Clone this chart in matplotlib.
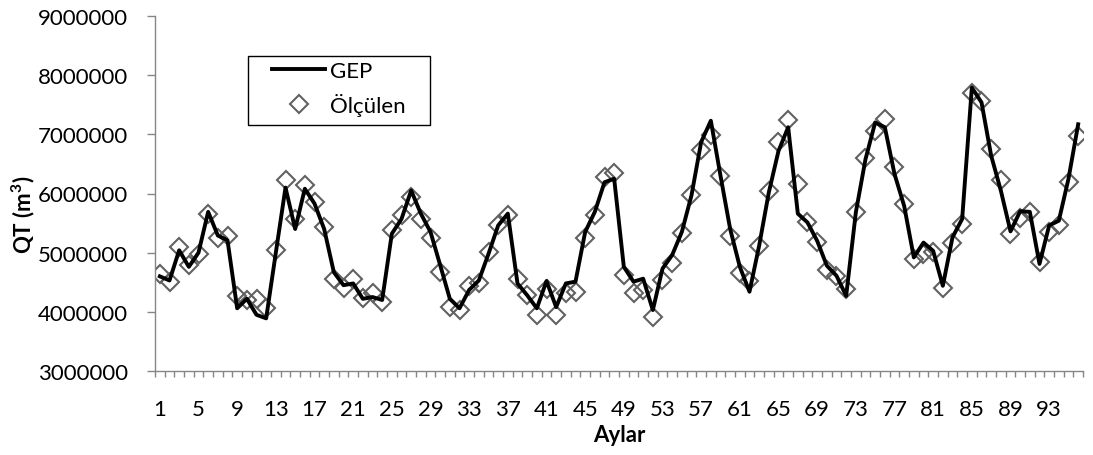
import matplotlib
matplotlib.use("Agg")
import matplotlib.pyplot as plt
from matplotlib.lines import Line2D
from matplotlib.patches import Rectangle
from matplotlib.ticker import FixedLocator, FuncFormatter
import numpy as np

plt.rcParams['font.family'] = ['Lato', 'DejaVu Sans']
plt.rcParams['mathtext.fontset'] = 'custom'
plt.rcParams['mathtext.rm'] = 'Lato'
plt.rcParams['mathtext.bf'] = 'Lato:bold'

months = list(range(1, 97))
gep = [4.60, 4.53, 5.04, 4.76, 5.00, 5.69, 5.29, 5.21, 4.06, 4.22,
       3.95, 3.89, 5.00, 6.10, 5.40, 6.08, 5.83, 5.40, 4.67, 4.45,
       4.48, 4.22, 4.25, 4.20, 5.32, 5.57, 6.05, 5.66, 5.35, 4.79,
       4.22, 4.06, 4.37, 4.53, 4.98, 5.46, 5.66, 4.48, 4.28, 4.06,
       4.52, 4.08, 4.48, 4.51, 5.35, 5.69, 6.19, 6.25, 4.76, 4.51,
       4.56, 4.03, 4.73, 4.96, 5.35, 5.97, 6.87, 7.23, 6.30, 5.40,
       4.76, 4.34, 5.12, 6.02, 6.72, 7.12, 5.66, 5.51, 5.20, 4.78,
       4.61, 4.27, 5.68, 6.58, 7.20, 7.12, 6.33, 5.79, 4.92, 5.17,
       5.03, 4.44, 5.26, 5.57, 7.79, 7.54, 6.64, 6.05, 5.36, 5.70,
       5.69, 4.81, 5.46, 5.54, 6.25, 7.17]
olculen = [4.64, 4.51, 5.10, 4.79, 4.97, 5.65, 5.24, 5.28, 4.26, 4.20,
           4.21, 4.07, 5.05, 6.22, 5.57, 6.15, 5.85, 5.44, 4.56, 4.40,
           4.56, 4.23, 4.31, 4.17, 5.38, 5.63, 5.94, 5.57, 5.24, 4.67,
           4.08, 4.03, 4.43, 4.48, 5.01, 5.46, 5.63, 4.56, 4.28, 3.94,
           4.38, 3.94, 4.31, 4.34, 5.24, 5.63, 6.28, 6.35, 4.63, 4.32,
           4.37, 3.92, 4.53, 4.82, 5.34, 5.97, 6.73, 6.99, 6.29, 5.29,
           4.65, 4.52, 5.11, 6.05, 6.87, 7.25, 6.16, 5.52, 5.18, 4.70,
           4.61, 4.39, 5.68, 6.60, 7.06, 7.26, 6.44, 5.82, 4.89, 4.98,
           5.01, 4.40, 5.16, 5.49, 7.70, 7.56, 6.75, 6.22, 5.31, 5.59,
           5.69, 4.85, 5.35, 5.46, 6.19, 6.98]
gep = [v * 1e6 for v in gep]
olculen = [v * 1e6 for v in olculen]

x_tick_labels = list(range(1, 97, 4))
y_ticks = [3000000, 4000000, 5000000, 6000000, 7000000, 8000000, 9000000]

W, H = 1093, 456
fig = plt.figure(figsize=(W / 100, H / 100), dpi=100)
L, R, T, B = 155, 1083, 17, 372
ax = fig.add_axes([L / W, 1 - B / H, (R - L) / W, (B - T) / H])

axis_gray = '#868686'
marker_gray = '#616161'

ax.plot(months, olculen, linestyle='none', marker='D', markersize=9.5,
        markerfacecolor='none', markeredgecolor=marker_gray,
        markeredgewidth=1.5, zorder=2)
ax.plot(months, gep, color='black', linewidth=2.8, zorder=3,
        solid_joinstyle='round')

ax.set_xlim(0.5, 96.5)
ax.set_ylim(3000000, 9000000)

for s in ['top', 'right']:
    ax.spines[s].set_visible(False)
for s in ['left', 'bottom']:
    ax.spines[s].set_color(axis_gray)
    ax.spines[s].set_linewidth(1.0)

ax.set_yticks(y_ticks)
ax.yaxis.set_major_formatter(FuncFormatter(lambda v, p: f"{int(round(v))}"))
ax.tick_params(axis='y', which='major', direction='out', length=6,
               width=1.0, color=axis_gray, pad=13.5, labelsize=16,
               labelcolor='black')

ax.xaxis.set_major_locator(FixedLocator(x_tick_labels))
ax.set_xticklabels([str(v) for v in x_tick_labels])
ax.xaxis.set_minor_locator(FixedLocator(np.arange(0.5, 97.0, 1.0)))
ax.tick_params(axis='x', which='major', length=0, pad=20, labelsize=16,
               labelcolor='black')
ax.tick_params(axis='x', which='minor', direction='out', length=4.5,
               width=1.0, color=axis_gray)

ax.set_xlabel('Aylar', fontsize=16, fontweight='bold')
ax.xaxis.set_label_coords(0.5, -0.150)
ax.set_ylabel(r'QT (m$^{\mathbf{3}}$)', fontsize=16, fontweight='bold')
ax.yaxis.label.set_verticalalignment('center')
ax.yaxis.set_label_coords(-0.142, 0.442)

handles = [Line2D([], [], color='black', linewidth=2.8),
           Line2D([], [], linestyle='none', marker='D', markersize=9,
                  markerfacecolor='none', markeredgecolor=marker_gray,
                  markeredgewidth=1.5)]
leg = fig.legend(handles, ['GEP', 'Ölçülen'], loc='upper left',
                 bbox_to_anchor=(272 / W, 1 - 62 / H),
                 bbox_transform=fig.transFigure, frameon=False,
                 borderpad=0, borderaxespad=0, handlelength=2.4,
                 handletextpad=0.22, labelspacing=0.55, fontsize=16)
fig.add_artist(Rectangle((248 / W, 1 - 126 / H), (430 - 248) / W, 69 / H,
                         transform=fig.transFigure, fill=False,
                         edgecolor='black', linewidth=1.0))

fig.savefig('out.png', dpi=100)
